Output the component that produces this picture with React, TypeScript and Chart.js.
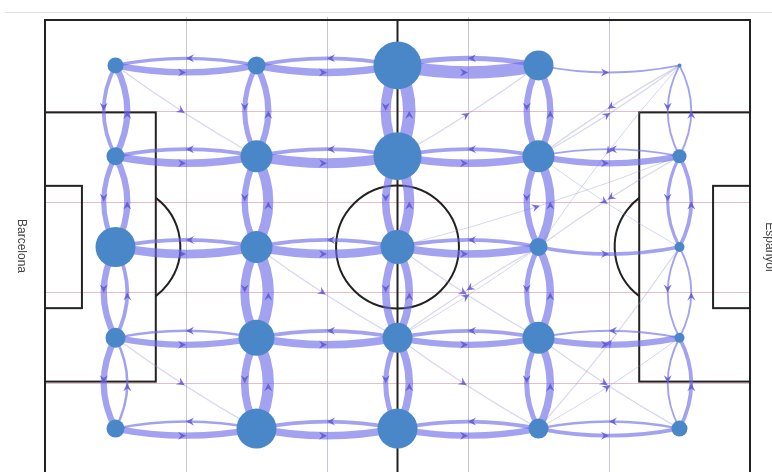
import React, { useEffect, useRef } from "react";
import { Chart, registerables } from "chart.js";
Chart.register(...registerables);

// pitch in metres
const PITCH_LENGTH = 105;
const PITCH_WIDTH = 68;
// zone centres (5 x 5 grid)
const colX = [10.5, 31.5, 52.5, 73.5, 94.5];
const rowY = [6.8, 20.4, 34, 47.6, 61.2];
// grid lines
const gridX = [21, 42, 63, 84];
const gridY = [13.6, 27.2, 40.8, 54.4];
// node radius per zone [row][col]
const nodeSize = [
  [8, 9, 24, 15, 2],
  [9, 16, 24, 16, 7],
  [20, 16, 17, 9, 5],
  [10, 18, 15, 16, 5],
  [9, 20, 20, 10, 8],
];
// passes to the right neighbour (col c -> c+1), [row][col]
const hRight = [
  [5, 6, 10, 1.5],
  [6, 8, 6, 5],
  [7, 7, 6, 3],
  [5, 6, 5, 5],
  [5, 6, 5, 3],
];
// passes to the left neighbour (col c+1 -> c), [row][col]
const hLeft = [
  [2.5, 3, 4, 0],
  [3, 3, 3, 1.5],
  [3, 3, 3, 0],
  [2, 3, 3, 1.5],
  [2, 3, 3, 2],
];
// passes downward (row r -> r+1), [row][col]
const vDown = [
  [3, 4, 8, 5, 1.5],
  [4, 5, 6, 5, 2.5],
  [5, 7, 6, 4, 1.5],
  [5, 6, 4, 4, 1.5],
];
// passes upward (row r+1 -> r), [row][col]
const vUp = [
  [5, 5, 10, 5, 1.5],
  [5, 8, 8, 7, 3],
  [3, 9, 6, 6, 1.5],
  [2, 9, 6, 6, 3],
];
// diagonal passes [fromRow, fromCol, toRow, toCol, width]
const diagonals = [
  [0, 0, 1, 1, 1],
  [3, 0, 4, 1, 1],
  [2, 1, 3, 2, 1],
  [1, 2, 0, 3, 1],
  [2, 2, 3, 3, 1],
  [2, 3, 3, 2, 1],
  [3, 2, 4, 3, 1],
  [3, 2, 2, 3, 0.8],
  [2, 2, 1, 4, 0.8],
  [0, 4, 1, 3, 1],
  [1, 3, 0, 4, 1],
  [1, 4, 2, 3, 1],
  [1, 3, 2, 4, 0.8],
  [4, 3, 2, 4, 1],
  [3, 3, 4, 4, 1],
  [4, 3, 3, 4, 0.8],
  [0, 4, 2, 3, 0.8],
];
const teamLeft = "Barcelona";
const teamRight = "Espanyol";

const EDGE = "rgba(105,105,230,0.62)";
const EDGE_THIN = "rgba(150,150,210,0.38)";
const ARROW = "rgba(95,85,215,0.85)";
const WIDTH_SCALE = 1.25;

const pitchPlugin = {
  id: "pitch",
  beforeDatasetsDraw(chart: any) {
    const { ctx, scales } = chart;
    const sx = scales.x, sy = scales.y;
    const px = (m: number) => sx.getPixelForValue(m);
    const py = (m: number) => sy.getPixelForValue(m);
    const mpx = px(1) - px(0);
    ctx.save();
    // frame line at top
    ctx.strokeStyle = "#e2e2e2";
    ctx.lineWidth = 1;
    ctx.beginPath();
    ctx.moveTo(5, 12.5);
    ctx.lineTo(772, 12.5);
    ctx.stroke();
    // grid
    ctx.lineWidth = 1;
    ctx.strokeStyle = "rgba(190,175,195,0.75)";
    gridX.forEach((g) => {
      ctx.beginPath();
      ctx.moveTo(Math.round(px(g)) + 0.5, py(0) - 3);
      ctx.lineTo(Math.round(px(g)) + 0.5, py(PITCH_WIDTH));
      ctx.stroke();
    });
    ctx.strokeStyle = "rgba(220,170,180,0.75)";
    gridY.forEach((g) => {
      ctx.beginPath();
      ctx.moveTo(px(0), Math.round(py(g)) + 0.5);
      ctx.lineTo(px(PITCH_LENGTH), Math.round(py(g)) + 0.5);
      ctx.stroke();
    });
    // pitch markings
    ctx.strokeStyle = "#222";
    ctx.lineWidth = 2;
    const rect = (x0: number, y0: number, x1: number, y1: number) => {
      ctx.strokeRect(px(x0), py(y0), px(x1) - px(x0), py(y1) - py(y0));
    };
    rect(0, 0, PITCH_LENGTH, PITCH_WIDTH);
    const mid = PITCH_WIDTH / 2;
    ctx.beginPath();
    ctx.moveTo(px(PITCH_LENGTH / 2), py(0));
    ctx.lineTo(px(PITCH_LENGTH / 2), py(PITCH_WIDTH));
    ctx.stroke();
    ctx.beginPath();
    ctx.arc(px(PITCH_LENGTH / 2), py(mid), 9.15 * mpx, 0, Math.PI * 2);
    ctx.stroke();
    rect(0, mid - 20.16, 16.5, mid + 20.16);
    rect(0, mid - 9.16, 5.5, mid + 9.16);
    rect(PITCH_LENGTH - 16.5, mid - 20.16, PITCH_LENGTH, mid + 20.16);
    rect(PITCH_LENGTH - 5.5, mid - 9.16, PITCH_LENGTH, mid + 9.16);
    const a = Math.acos(5.5 / 9.15);
    ctx.beginPath();
    ctx.arc(px(11), py(mid), 9.15 * mpx, -a, a);
    ctx.stroke();
    ctx.beginPath();
    ctx.arc(px(PITCH_LENGTH - 11), py(mid), 9.15 * mpx, Math.PI - a, Math.PI + a);
    ctx.stroke();

    // edges
    const drawEdge = (r1: number, c1: number, r2: number, c2: number, w: number, frac: number, color: string) => {
      if (!w) return;
      const x0 = px(colX[c1]), y0 = py(rowY[r1]);
      const x2 = px(colX[c2]), y2 = py(rowY[r2]);
      const dx = x2 - x0, dy = y2 - y0;
      const len = Math.hypot(dx, dy);
      const nx = -dy / len, ny = dx / len;
      const b = frac * len * 2;
      const cx = (x0 + x2) / 2 + nx * b, cy = (y0 + y2) / 2 + ny * b;
      ctx.strokeStyle = color;
      ctx.lineWidth = w * WIDTH_SCALE;
      ctx.lineCap = "butt";
      ctx.beginPath();
      ctx.moveTo(x0, y0);
      ctx.quadraticCurveTo(cx, cy, x2, y2);
      ctx.stroke();
      // arrow head, tip at the middle of the curve
      const mx = 0.25 * x0 + 0.5 * cx + 0.25 * x2;
      const my = 0.25 * y0 + 0.5 * cy + 0.25 * y2;
      const ux = dx / len, uy = dy / len;
      const L = 8, W = 4;
      const tx = mx, ty = my;
      ctx.fillStyle = ARROW;
      ctx.beginPath();
      ctx.moveTo(tx, ty);
      ctx.lineTo(tx - ux * L + nx * W, ty - uy * L + ny * W);
      ctx.lineTo(tx - ux * L * 0.65, ty - uy * L * 0.65);
      ctx.lineTo(tx - ux * L - nx * W, ty - uy * L - ny * W);
      ctx.closePath();
      ctx.fill();
    };
    diagonals.forEach((d) => drawEdge(d[0], d[1], d[2], d[3], d[4], 0.015, EDGE_THIN));
    hRight.forEach((row, r) => row.forEach((w, c) => drawEdge(r, c, r, c + 1, w, 0.05, EDGE)));
    hLeft.forEach((row, r) => row.forEach((w, c) => drawEdge(r, c + 1, r, c, w, 0.05, EDGE)));
    vDown.forEach((row, r) => row.forEach((w, c) => drawEdge(r, c, r + 1, c, w, 0.13, EDGE)));
    vUp.forEach((row, r) => row.forEach((w, c) => drawEdge(r + 1, c, r, c, w, 0.13, EDGE)));
    ctx.restore();
  },
  afterDraw(chart: any) {
    const { ctx } = chart;
    ctx.save();
    ctx.fillStyle = "#444";
    ctx.font = '12px "Liberation Sans", Arial, sans-serif';
    ctx.textAlign = "center";
    ctx.textBaseline = "middle";
    ctx.translate(21, 246);
    ctx.rotate(Math.PI / 2);
    ctx.fillText(teamLeft, 0, 0);
    ctx.restore();
    ctx.save();
    ctx.fillStyle = "#444";
    ctx.font = '12px "Liberation Sans", Arial, sans-serif';
    ctx.textAlign = "center";
    ctx.textBaseline = "middle";
    ctx.translate(769, 247);
    ctx.rotate(Math.PI / 2);
    ctx.fillText(teamRight, 0, 0);
    ctx.restore();
  },
};

export default function App() {
  const ref = useRef<HTMLCanvasElement>(null);
  useEffect(() => {
    document.body.style.margin = "0";
    const points: any[] = [];
    rowY.forEach((yv, r) =>
      colX.forEach((xv, c) => points.push({ x: xv, y: yv, r: nodeSize[r][c] }))
    );
    const chart = new Chart(ref.current as HTMLCanvasElement, {
      type: "bubble",
      data: {
        datasets: [
          {
            data: points,
            backgroundColor: "#4a87c9",
            borderWidth: 0,
            hoverRadius: 0,
            clip: false,
          } as any,
        ],
      },
      options: {
        animation: false,
        responsive: false,
        events: [],
        layout: { autoPadding: false, padding: { left: 45, right: 22, top: 20, bottom: 0 } },
        scales: {
          x: { type: "linear", min: 0, max: PITCH_LENGTH, display: false },
          y: { type: "linear", min: 0, max: 67.7, reverse: true, display: false },
        },
        plugins: { legend: { display: false }, tooltip: { enabled: false } },
      },
      plugins: [pitchPlugin],
    });
    return () => chart.destroy();
  }, []);
  return (
    <canvas ref={ref} width={772} height={472} style={{ display: "block", width: 772, height: 472 }} />
  );
}
